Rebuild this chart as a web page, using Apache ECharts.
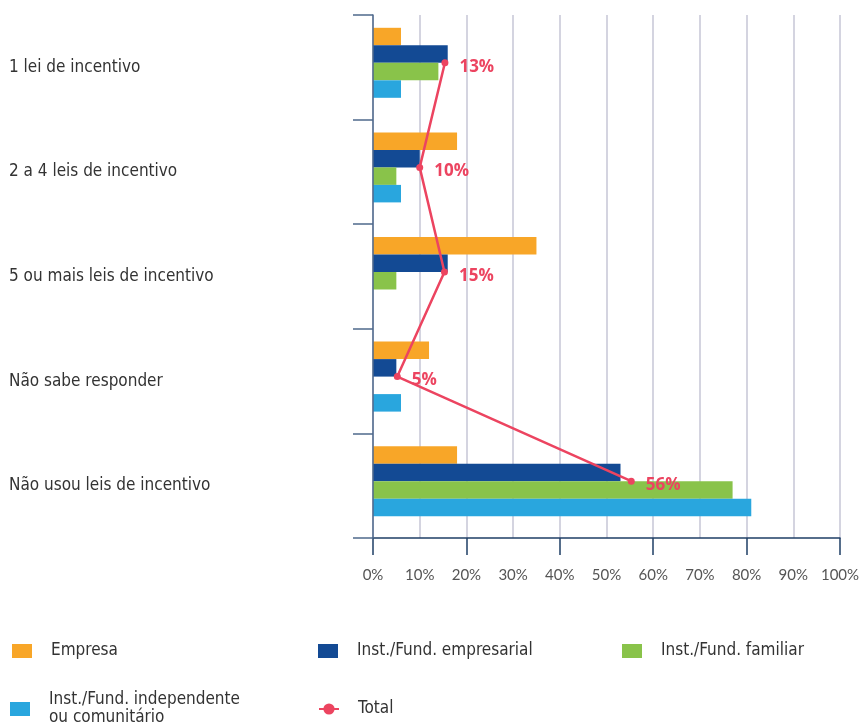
<!DOCTYPE html>
<html>
<head>
<meta charset="utf-8">
<script src="https://cdn.jsdelivr.net/npm/echarts@6/dist/echarts.min.js"></script>
<style>
  html, body { margin: 0; padding: 0; background: #fff; }
  #chart { width: 863px; height: 727px; }
</style>
</head>
<body>
<div id="chart"></div>
<script>
const categories = ["1 lei de incentivo", "2 a 4 leis de incentivo", "5 ou mais leis de incentivo", "Não sabe responder", "Não usou leis de incentivo"];
const empresa = [6, 18, 35, 12, 18];
const empresarial = [16, 10, 16, 5, 53];
const familiar = [14, 5, 5, 0, 77];
const independente = [6, 6, 0, 6, 81];
// where the points sit in the picture, and what their labels say
const total = [15.4, 10, 15.3, 5.2, 55.3];
const totalLabels = ["13%", "10%", "15%", "5%", "56%"];
const xTicks = [0, 10, 20, 30, 40, 50, 60, 70, 80, 90, 100];

const chart = echarts.init(document.getElementById("chart"));

const narrow = "'Liberation Sans Narrow', 'DejaVu Sans Condensed', sans-serif";
const red = "#EC4460";

function bar(name, data, color) {
  return {
    name: name,
    type: "bar",
    xAxisIndex: 2,
    yAxisIndex: 1,
    data: data,
    barWidth: 17.5,
    barGap: "0%",
    itemStyle: { color: color },
  };
}

function legendAt(left, top, names) {
  return {
    left: left,
    top: top,
    orient: "horizontal",
    data: names,
    itemWidth: 20,
    itemHeight: 14,
    textStyle: {
      fontFamily: narrow,
      fontSize: 17,
      color: "#333",
      lineHeight: 18,
      padding: [0, 0, 0, 14],
    },
    formatter: function (name) {
      return name.replace(" ou ", "\nou ");
    },
  };
}

const options = {
  backgroundColor: "#fff",
  animation: false,
  grid: [
    { left: 373, right: 23, top: 15, bottom: 189 },
    { left: 373, right: 23, top: 10.5, bottom: 193.5 },
  ],
  legend: [
    legendAt(7, 637, [{ name: "Empresa", icon: "rect" }]),
    legendAt(313, 637, [{ name: "Inst./Fund. empresarial", icon: "rect" }]),
    legendAt(617, 637, [{ name: "Inst./Fund. familiar", icon: "rect" }]),
    legendAt(5, 686, [{ name: "Inst./Fund. independente ou comunitário", icon: "rect" }]),
    legendAt(313, 695, ["Total"]),
  ],
  xAxis: [
    {
      type: "value",
      gridIndex: 0,
      position: "bottom",
      min: xTicks[0],
      max: xTicks[xTicks.length - 1],
      interval: 10,
      axisLine: { show: true, lineStyle: { color: "#1F3F66", width: 1.5 } },
      axisTick: { show: false },
      axisLabel: {
        margin: 30,
        color: "#555",
        fontFamily: "Lato, sans-serif",
        fontSize: 15,
        formatter: "{value}%",
      },
      splitLine: { show: true, lineStyle: { color: "#C6C6D6", width: 1.5 } },
    },
    {
      type: "value",
      gridIndex: 0,
      position: "bottom",
      min: 0,
      max: 100,
      interval: 20,
      axisLine: { show: false },
      axisTick: { show: true, length: 17, lineStyle: { color: "#1F3F66", width: 1.5 } },
      axisLabel: { show: false },
      splitLine: { show: false },
    },
    {
      type: "value",
      gridIndex: 1,
      min: 0,
      max: 100,
      show: false,
    },
  ],
  yAxis: [
    {
      type: "category",
      gridIndex: 0,
      inverse: true,
      data: categories,
      z: 10,
      axisLine: { show: true, lineStyle: { color: "#4F6A8C", width: 1.5 } },
      axisTick: { show: true, length: 20, lineStyle: { color: "#4F6A8C", width: 1.5 } },
      axisLabel: {
        align: "left",
        margin: 364,
        color: "#333",
        fontFamily: narrow,
        fontSize: 17,
      },
      splitLine: { show: false },
    },
    {
      type: "category",
      gridIndex: 1,
      inverse: true,
      data: categories,
      show: false,
    },
  ],
  series: [
    bar("Empresa", empresa, "#F8A628"),
    bar("Inst./Fund. empresarial", empresarial, "#134A94"),
    bar("Inst./Fund. familiar", familiar, "#89C34A"),
    bar("Inst./Fund. independente ou comunitário", independente, "#29A6DE"),
    {
      name: "Total",
      type: "line",
      xAxisIndex: 2,
      yAxisIndex: 1,
      data: total,
      z: 5,
      symbol: "circle",
      symbolSize: 7,
      lineStyle: { color: red, width: 2.5 },
      itemStyle: { color: red },
      label: {
        show: true,
        position: "right",
        offset: [6, 4],
        color: red,
        fontFamily: "'Open Sans', sans-serif",
        fontWeight: "bold",
        fontSize: 17,
        formatter: function (p) {
          return totalLabels[p.dataIndex];
        },
      },
    },
  ],
};

chart.setOption(options, true);
</script>
</body>
</html>
